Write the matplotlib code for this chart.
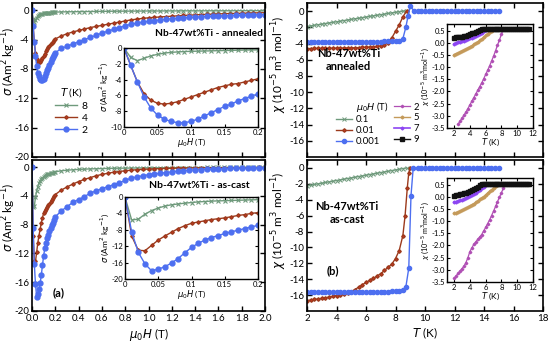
import numpy as np
import matplotlib
matplotlib.use("Agg")
import matplotlib.pyplot as plt
from matplotlib.lines import Line2D

plt.rcParams['font.family'] = ['Lato', 'DejaVu Sans']
plt.rcParams['axes.unicode_minus'] = False
plt.rcParams['mathtext.fontset'] = 'dejavusans'

# ---------------- magnetisation data (sigma vs mu0H) ----------------
H_fine = np.round(np.arange(0, 0.2001, 0.01), 3)
H_coarse = np.round(np.arange(0.25, 2.0001, 0.05), 3)

ann_8_fine = [0, -1.2, -1.6, -1.3, -1.0, -0.8, -0.65, -0.55, -0.5, -0.45, -0.42,
              -0.4, -0.38, -0.36, -0.34, -0.32, -0.3, -0.28, -0.26, -0.25, -0.24]
ann_8_coarse = [-0.22, -0.2, -0.19, -0.18, -0.17, -0.16, -0.15, -0.14, -0.13, -0.12,
                -0.12, -0.11, -0.11, -0.1, -0.1, -0.09, -0.09, -0.09, -0.08, -0.08,
                -0.08, -0.07, -0.07, -0.07, -0.07, -0.06, -0.06, -0.06, -0.06, -0.06,
                -0.05, -0.05, -0.05, -0.05, -0.05, -0.05]
ann_4_fine = [0, -2.2, -4.3, -5.8, -6.6, -7.0, -7.1, -7.0, -6.8, -6.5, -6.2,
              -5.9, -5.6, -5.3, -5.0, -4.8, -4.6, -4.5, -4.3, -4.1, -3.9]
ann_4_coarse = [-3.5, -3.2, -2.95, -2.75, -2.55, -2.35, -2.2, -2.05, -1.9, -1.75,
                -1.6, -1.45, -1.3, -1.2, -1.1, -1.02, -0.96, -0.9, -0.85, -0.8,
                -0.75, -0.7, -0.66, -0.62, -0.58, -0.55, -0.52, -0.49, -0.46, -0.44,
                -0.42, -0.4, -0.38, -0.36, -0.34, -0.32]
ann_2_fine = [0, -2.2, -4.3, -6.2, -7.6, -8.5, -9.0, -9.3, -9.45, -9.45, -9.3,
              -9.0, -8.6, -8.2, -7.8, -7.4, -7.1, -6.7, -6.4, -6.1, -5.8]
ann_2_coarse = [-5.2, -4.9, -4.6, -4.3, -4.0, -3.7, -3.4, -3.1, -2.85, -2.6,
                -2.35, -2.1, -1.9, -1.75, -1.6, -1.5, -1.4, -1.3, -1.22, -1.15,
                -1.08, -1.02, -0.97, -0.92, -0.88, -0.84, -0.8, -0.77, -0.74, -0.71,
                -0.68, -0.66, -0.64, -0.62, -0.6, -0.58]

cast_8_fine = [0, -5.6, -5.4, -4.2, -3.3, -2.7, -2.2, -1.9, -1.7, -1.5, -1.35,
               -1.2, -1.1, -1.0, -0.95, -0.9, -0.85, -0.8, -0.75, -0.7, -0.65]
cast_8_coarse = [-0.5, -0.42, -0.36, -0.31, -0.27, -0.24, -0.21, -0.19, -0.17, -0.15,
                 -0.14, -0.13, -0.12, -0.11, -0.1, -0.09, -0.08, -0.08, -0.07, -0.07,
                 -0.06, -0.06, -0.05, -0.05, -0.05, -0.04, -0.04, -0.04, -0.03, -0.03,
                 -0.03, -0.03, -0.02, -0.02, -0.02, -0.02]
cast_4_fine = [0, -9.5, -13.0, -13.1, -11.8, -10.5, -9.5, -8.6, -7.7, -7.0, -6.4,
               -6.1, -5.8, -5.5, -5.3, -5.1, -4.8, -4.5, -4.3, -4.0, -3.8]
cast_4_coarse = [-3.2, -2.75, -2.35, -2.0, -1.7, -1.45, -1.2, -1.0, -0.85, -0.7,
                 -0.6, -0.5, -0.42, -0.35, -0.3, -0.26, -0.22, -0.19, -0.17, -0.15,
                 -0.13, -0.12, -0.11, -0.1, -0.09, -0.08, -0.08, -0.07, -0.07, -0.06,
                 -0.06, -0.05, -0.05, -0.05, -0.04, -0.04]
cast_2_fine = [0, -8.5, -13.5, -16.3, -18.0, -17.6, -17.0, -16.1, -15.0, -13.6, -12.3,
               -11.3, -10.5, -9.9, -9.4, -8.9, -8.5, -8.1, -7.7, -7.3, -6.9]
cast_2_coarse = [-6.1, -5.5, -4.9, -4.5, -4.1, -3.6, -3.3, -3.0, -2.7, -2.45,
                 -2.2, -1.8, -1.55, -1.35, -1.2, -1.05, -0.95, -0.85, -0.75, -0.65,
                 -0.55, -0.48, -0.42, -0.37, -0.33, -0.29, -0.26, -0.23, -0.2, -0.18,
                 -0.16, -0.14, -0.13, -0.12, -0.11, -0.1]

# ---------------- susceptibility data (chi vs T) ----------------
T_green = np.round(np.arange(2.0, 8.751, 0.25), 2)
ann_01 = [-1.90, -1.83, -1.75, -1.68, -1.61, -1.53, -1.46, -1.39, -1.32, -1.24,
          -1.17, -1.10, -1.02, -0.95, -0.88, -0.80, -0.73, -0.66, -0.58, -0.51,
          -0.44, -0.37, -0.29, -0.22, -0.15, -0.07, 0.0, 0.0]
T_ann_red = np.round(np.arange(2.0, 8.751, 0.25), 2)
ann_001 = [-4.62, -4.62, -4.61, -4.6, -4.6, -4.59, -4.58, -4.58, -4.57, -4.56,
           -4.55, -4.54, -4.53, -4.52, -4.5, -4.48, -4.46, -4.43, -4.4, -4.35,
           -4.28, -4.15, -3.9, -3.3, -2.5, -1.7, -0.7, 0.0]
T_ann_blue = np.concatenate([np.round(np.arange(2.0, 8.251, 0.25), 2),
                             [8.5, 8.7, 8.85, 9.0],
                             np.round(np.arange(9.25, 15.001, 0.25), 2)])
ann_0001 = ([-3.85, -3.85, -3.84, -3.84, -3.83, -3.83, -3.82, -3.82, -3.81, -3.81,
             -3.8, -3.8, -3.8, -3.79, -3.79, -3.78, -3.78, -3.77, -3.77, -3.76,
             -3.76, -3.75, -3.75, -3.74, -3.72, -3.68]
            + [-3.4, -2.0, -0.6, 0.6]
            + [0.05, 0.02, 0.0, 0.0, 0.0, 0.0, 0.0, 0.0, 0.0, 0.0, 0.0, 0.0,
               0.0, 0.0, 0.0, 0.0, 0.0, 0.0, 0.0, 0.0, 0.0, 0.0, 0.0, 0.0])

cast_01 = [-2.25, -2.17, -2.08, -2.0, -1.92, -1.83, -1.75, -1.67, -1.58, -1.5,
           -1.42, -1.33, -1.25, -1.17, -1.08, -1.0, -0.92, -0.83, -0.75, -0.67,
           -0.58, -0.5, -0.42, -0.33, -0.25, -0.17, -0.08, 0.0]
T_cast_red = np.concatenate([np.round(np.arange(2.0, 8.501, 0.25), 2),
                             [8.65, 8.8, 8.9, 9.0]])
cast_001 = [-16.7, -16.62, -16.55, -16.48, -16.4, -16.33, -16.25, -16.15, -16.05,
            -15.93, -15.8, -15.68, -15.55, -15.3, -15.0, -14.7, -14.4, -14.15,
            -13.9, -13.6, -13.3, -12.9, -12.5, -12.1, -11.4, -10.4, -8.5,
            -6.0, -2.5, -0.6, 0.0]
T_cast_blue = np.concatenate([np.round(np.arange(2.0, 8.501, 0.25), 2),
                              [8.7, 8.9, 9.05, 9.2],
                              np.round(np.arange(9.5, 15.001, 0.25), 2)])
cast_0001 = ([-15.6, -15.6, -15.61, -15.61, -15.62, -15.62, -15.63, -15.63, -15.64,
              -15.64, -15.65, -15.65, -15.65, -15.65, -15.65, -15.64, -15.64, -15.63,
              -15.62, -15.61, -15.6, -15.58, -15.56, -15.54, -15.5, -15.45, -15.35]
             + [-15.0, -12.6, -3.5, 0.0]
             + [0.0] * 23)

# insets (high field)
T_black = np.round(np.arange(2.0, 11.501, 0.25), 2)
ann_9 = [0.21, 0.22, 0.23, 0.24, 0.25, 0.26, 0.28, 0.3, 0.36, 0.38, 0.41, 0.45,
         0.49, 0.53, 0.56, 0.57] + [0.57] * 23
T_violet = np.round(np.arange(2.0, 6.251, 0.25), 2)
ann_7 = [-0.04, -0.01, 0.02, 0.04, 0.07, 0.09, 0.12, 0.15, 0.18, 0.21, 0.25, 0.29,
         0.33, 0.37, 0.42, 0.47, 0.52, 0.57]
T_ann_tan = np.round(np.arange(2.0, 7.001, 0.25), 2)
ann_5 = [-0.49, -0.45, -0.42, -0.38, -0.34, -0.3, -0.26, -0.22, -0.17, -0.12, -0.07,
         -0.02, 0.04, 0.1, 0.16, 0.23, 0.3, 0.37, 0.44, 0.5, 0.57]
T_ann_pink = np.round(np.arange(2.5, 8.251, 0.25), 2)
ann_2T = [-3.35, -3.22, -3.1, -2.97, -2.85, -2.7, -2.55, -2.4, -2.25, -2.1, -1.95,
          -1.8, -1.65, -1.48, -1.3, -1.13, -0.95, -0.75, -0.55, -0.33, -0.1, 0.12,
          0.35, 0.57]

cast_9 = [0.05, 0.06, 0.08, 0.1, 0.12, 0.14, 0.17, 0.2, 0.23, 0.27, 0.31, 0.36,
          0.42, 0.48, 0.53, 0.54] + [0.54] * 23
cast_7 = [-0.22, -0.2, -0.17, -0.15, -0.12, -0.09, -0.05, -0.01, 0.03, 0.07, 0.12,
          0.17, 0.22, 0.28, 0.34, 0.41, 0.47, 0.54]
T_cast_tan = np.round(np.arange(2.0, 7.751, 0.25), 2)
cast_5 = [-0.68, -0.65, -0.62, -0.59, -0.55, -0.51, -0.47, -0.43, -0.38, -0.33,
          -0.28, -0.23, -0.17, -0.11, -0.05, 0.01, 0.08, 0.15, 0.22, 0.29, 0.36,
          0.43, 0.5, 0.54]
T_cast_pink = np.round(np.arange(2.0, 8.501, 0.25), 2)
cast_2T = [-3.35, -3.25, -3.15, -3.05, -2.95, -2.85, -2.7, -2.5, -2.25, -2.1, -1.95,
           -1.85, -1.75, -1.65, -1.55, -1.4, -1.26, -1.1, -0.95, -0.77, -0.59, -0.4,
           -0.2, -0.02, 0.17, 0.35, 0.54]

H_main_ticks = [0.0, 0.2, 0.4, 0.6, 0.8, 1.0, 1.2, 1.4, 1.6, 1.8, 2.0]
T_main_ticks = [2, 4, 6, 8, 10, 12, 14, 16, 18]

# ---------------- styles ----------------
C_G = '#6f9a7c'
C_R = '#9c3a1c'
C_RM = '#cc3322'
C_B = '#4d6ff0'
C_P = '#b04fb4'
C_T = '#c49a5a'
C_V = '#8c45f2'
C_K = '#111111'

sty8 = dict(color=C_G, marker='x', ms=3, mew=0.8, lw=1.0)
sty4 = dict(color=C_R, marker='D', ms=1.8, mfc=C_RM, mec=C_R, lw=1.0)
sty2 = dict(color=C_B, marker='o', ms=3.5, lw=1.0)

fig = plt.figure(figsize=(5.5, 3.44), dpi=100)
W, Hh = 550.0, 344.0


def ax_px(x0, y0, x1, y1):
    return fig.add_axes([x0 / W, 1 - y1 / Hh, (x1 - x0) / W, (y1 - y0) / Hh])


def style_main(ax):
    ax.tick_params(direction='in', top=True, right=True, length=3.5, width=1,
                   labelsize=7, pad=2)
    for s in ax.spines.values():
        s.set_linewidth(1.2)


def style_inset(ax):
    ax.tick_params(direction='in', top=True, right=True, length=2.5, width=0.8,
                   labelsize=5.5, pad=1.5)
    for s in ax.spines.values():
        s.set_linewidth(1.0)


sig_lab = r'$\sigma$ (Am$^2$ kg$^{-1}$)'
h_lab = r'$\mu_0H$ (T)'

# ---- top-left: annealed ----
axA = ax_px(32, 3, 265, 157)
Hm = np.concatenate([H_fine, H_coarse])
axA.plot(Hm, ann_8_fine + ann_8_coarse, label='8', **sty8)
axA.plot(Hm, ann_4_fine + ann_4_coarse, label='4', **sty4)
axA.plot(Hm, ann_2_fine + ann_2_coarse, label='2', **sty2)
axA.set_xlim(0, 2.0)
axA.set_ylim(-20, 1)
axA.set_xticks(H_main_ticks)
axA.set_xticklabels([])
axA.set_yticks([0, -4, -8, -12, -16, -20])
style_main(axA)
axA.set_ylabel(sig_lab, fontsize=8.5)
axA.yaxis.set_label_coords(-0.062, 0.62)
axA.legend(title=r'$T$ (K)', loc='upper left', bbox_to_anchor=(0.07, 0.50),
           frameon=False, fontsize=7.5, title_fontsize=7.5, handlelength=2.2,
           labelspacing=0.25, handletextpad=0.4, borderpad=0.1)
axA.text(0.76, 0.80, 'Nb-47wt%Ti - annealed', transform=axA.transAxes,
         ha='center', va='center', fontsize=7.3, fontweight='bold')

insA = ax_px(124, 48, 258, 127)
insA.plot(H_fine, ann_8_fine, **sty8)
insA.plot(H_fine, ann_4_fine, **sty4)
insA.plot(H_fine, ann_2_fine, **sty2)
insA.set_xlim(0, 0.2)
insA.set_ylim(-10, 0)
insA.set_xticks([0, 0.05, 0.1, 0.15, 0.2])
insA.set_xticklabels(['0', '0.05', '0.1', '0.15', '0.2'])
insA.set_yticks([0, -2, -4, -6, -8, -10])
style_inset(insA)
insA.set_xlabel(h_lab, fontsize=6, labelpad=0)
insA.set_ylabel(sig_lab, fontsize=6, labelpad=0)

# ---- bottom-left: as-cast ----
axB = ax_px(32, 160, 265, 311)
axB.plot(Hm, cast_8_fine + cast_8_coarse, **sty8)
axB.plot(Hm, cast_4_fine + cast_4_coarse, **sty4)
axB.plot(Hm, cast_2_fine + cast_2_coarse, **sty2)
axB.set_xlim(0, 2.0)
axB.set_ylim(-20, 1)
axB.set_xticks(H_main_ticks)
axB.set_xticklabels([f'{v:.1f}' for v in H_main_ticks])
axB.set_yticks([0, -4, -8, -12, -16, -20])
style_main(axB)
axB.set_ylabel(sig_lab, fontsize=8.5)
axB.yaxis.set_label_coords(-0.062, 0.62)
axB.set_xlabel(h_lab, fontsize=8.5, labelpad=2)
axB.text(0.72, 0.83, 'Nb-47wt%Ti - as-cast', transform=axB.transAxes,
         ha='center', va='center', fontsize=7.5, fontweight='bold')
axB.text(0.115, 0.12, '(a)', transform=axB.transAxes, ha='center', va='center',
         fontsize=8, fontweight='bold')

insB = ax_px(125, 197, 258, 279)
insB.plot(H_fine, cast_8_fine, **sty8)
insB.plot(H_fine, cast_4_fine, **sty4)
insB.plot(H_fine, cast_2_fine, **sty2)
insB.set_xlim(0, 0.2)
insB.set_ylim(-20, 0)
insB.set_xticks([0, 0.05, 0.1, 0.15, 0.2])
insB.set_xticklabels(['0', '0.05', '0.1', '0.15', '0.2'])
insB.set_yticks([0, -4, -8, -12, -16, -20])
style_inset(insB)
insB.set_xlabel(h_lab, fontsize=6, labelpad=0)
insB.set_ylabel(sig_lab, fontsize=6, labelpad=0)

# ---- right panels ----
chi_lab = r'$\chi$ (10$^{-5}$ m$^3$ mol$^{-1}$)'
chi_in_lab = r'$\chi$ (10$^{-5}$ m$^3$mol$^{-1}$)'
g_sty = dict(color=C_G, marker='x', ms=3, mew=0.7, lw=1.0)
r_sty = dict(color=C_R, marker='D', ms=1.8, mfc=C_RM, mec=C_R, lw=1.0)
b_sty = dict(color=C_B, marker='o', ms=3, lw=1.0)
p_sty = dict(color=C_P, marker='D', ms=1.3, lw=0.9)
t_sty = dict(color=C_T, marker='D', ms=1.5, lw=1.0)
v_sty = dict(color=C_V, marker='D', ms=1.5, lw=1.2)
k_sty = dict(color=C_K, marker='s', ms=2.2, lw=1.0)


def right_main(y0, y1, d01, Tr, d001, Tb, d0001, xlabels):
    ax = ax_px(307, y0, 543, y1)
    ax.plot(T_green, d01, **g_sty)
    ax.plot(Tr, d001, **r_sty)
    ax.plot(Tb, d0001, **b_sty)
    ax.set_xlim(2, 18)
    ax.set_ylim(-18, 1)
    ax.set_xticks(T_main_ticks)
    ax.set_yticks(list(range(0, -17, -2)))
    style_main(ax)
    if not xlabels:
        ax.set_xticklabels([])
    ax.set_ylabel(chi_lab, fontsize=8.5)
    ax.yaxis.set_label_coords(-0.077, 0.6)
    return ax


def right_inset(y0, y1, d9, d7, Tt, d5, Tp, d2):
    ax = ax_px(447, y0, 533, y1)
    ax.plot(Tp, d2, **p_sty)
    ax.plot(Tt, d5, **t_sty)
    ax.plot(T_violet, d7, **v_sty)
    ax.plot(T_black, d9, **k_sty)
    ax.set_xlim(1.1, 12)
    ax.set_ylim(-3.5, 0.77)
    ax.set_xticks([2, 4, 6, 8, 10, 12])
    ax.set_yticks([0.5, 0.0, -0.5, -1.0, -1.5, -2.0, -2.5, -3.0, -3.5])
    ax.set_yticklabels(['0.5', '0.0', '-0.5', '-1.0', '-1.5', '-2.0', '-2.5', '-3.0', '-3.5'])
    style_inset(ax)
    ax.set_xlabel(r'$T$ (K)', fontsize=6, labelpad=0)
    ax.set_ylabel(chi_in_lab, fontsize=5.2, labelpad=0)
    return ax


axC = right_main(3, 157, ann_01, T_ann_red, ann_001, T_ann_blue, ann_0001, False)
axC.text(0.175, 0.63, 'Nb-47wt%Ti\nannealed', transform=axC.transAxes, ha='center',
         va='center', fontsize=8, fontweight='bold', linespacing=1.3)
hd = [Line2D([], [], lw=0, marker=None),
      Line2D([], [], **g_sty), Line2D([], [], **r_sty), Line2D([], [], **b_sty),
      Line2D([], [], **p_sty), Line2D([], [], **t_sty), Line2D([], [], **v_sty),
      Line2D([], [], **k_sty)]
lb = [r'$\mu_0H$ (T)', '0.1', '0.01', '0.001', '2', '5', '7', '9']
axC.legend(hd, lb, ncol=2, loc='upper left', bbox_to_anchor=(0.1, 0.41),
           frameon=False, fontsize=6.8, handlelength=1.7, labelspacing=0.2,
           columnspacing=0.6, handletextpad=0.35, borderpad=0.1)
right_inset(24, 128, ann_9, ann_7, T_ann_tan, ann_5, T_ann_pink, ann_2T)

axD = right_main(160, 311, cast_01, T_cast_red, cast_001, T_cast_blue, cast_0001, True)
axD.set_xlabel(r'$T$ (K)', fontsize=8.5, labelpad=2)
axD.text(0.17, 0.65, 'Nb-47wt%Ti\nas-cast', transform=axD.transAxes, ha='center',
         va='center', fontsize=8, fontweight='bold', linespacing=1.3)
axD.text(0.11, 0.27, '(b)', transform=axD.transAxes, ha='center', va='center',
         fontsize=8, fontweight='bold')
right_inset(178, 282, cast_9, cast_7, T_cast_tan, cast_5, T_cast_pink, cast_2T)

fig.savefig('out.png', dpi=100)
